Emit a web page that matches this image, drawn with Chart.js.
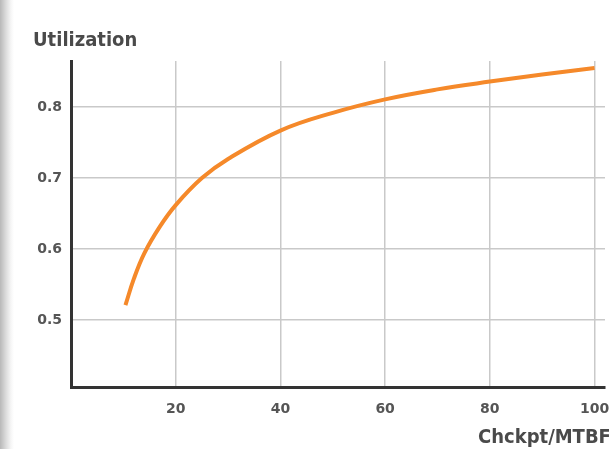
<!DOCTYPE html>
<html>
<head>
<meta charset="utf-8">
<script src="https://cdn.jsdelivr.net/npm/chart.js@4.4.0/dist/chart.umd.min.js"></script>
<style>
  html, body { margin: 0; padding: 0; }
  body {
    width: 609px; height: 449px; overflow: hidden; position: relative;
    background: linear-gradient(to right, #b8b8b8 0px, #dcdcdc 6px, #f6f6f6 11px, #ffffff 14px);
  }
  #wrap { position: absolute; left: 0; top: 0; width: 609px; height: 449px; }
  .lbl {
    position: absolute; font-family: "DejaVu Sans Condensed", "DejaVu Sans", sans-serif;
    font-weight: bold; color: #4a4a4a; font-size: 20px; white-space: nowrap; line-height: 1;
  }
</style>
</head>
<body>
<div id="wrap"><canvas id="myChart" width="609" height="449"></canvas></div>
<div class="lbl" style="left:33px; top:29px;">Utilization</div>
<div class="lbl" style="left:478px; top:426px;">Chckpt/MTBF</div>
<script>
// values
const ratio = [10.4, 12, 14, 17, 20, 25, 30, 40, 50, 60, 70, 80, 90, 100];
const utilization = [0.521, 0.558, 0.594, 0.632, 0.662, 0.70, 0.727, 0.767, 0.792, 0.811, 0.825, 0.836, 0.846, 0.855];
const xTicks = [20, 40, 60, 80, 100];
const yTicks = [0.5, 0.6, 0.7, 0.8];

const points = ratio.map((x, i) => ({ x: x, y: utilization[i] }));

const ctx = document.getElementById('myChart').getContext('2d');

const tickFont = { family: '"DejaVu Sans", sans-serif', size: 14, weight: 'bold' };

const myChart = new Chart(ctx, {
    type: 'line',
    data: {
        datasets: [{
            data: points,
            borderColor: '#f5892a',
            borderWidth: 4,
            pointRadius: 0,
            fill: false,
            tension: 0.4
        }]
    },
    options: {
        responsive: false,
        animation: false,
        layout: { padding: { left: 0, top: 61, right: 4, bottom: 31.5 } },
        plugins: { legend: { display: false }, tooltip: { enabled: false } },
        scales: {
            x: {
                type: 'linear',
                min: 0,
                max: 102,
                afterBuildTicks: (s) => { s.ticks = xTicks.map(v => ({ value: v })); },
                afterFit: (s) => { s.height = 30; s.paddingLeft = 0; s.paddingRight = 0; },
                grid: { color: '#c9c9c9', lineWidth: 1.5, drawTicks: false },
                border: { display: true, color: '#333', width: 3 },
                ticks: { padding: 13, color: '#555', font: tickFont }
            },
            y: {
                min: 0.405,
                max: 0.865,
                afterBuildTicks: (s) => { s.ticks = yTicks.map(v => ({ value: v })); },
                afterFit: (s) => { s.width = 71; s.paddingTop = 0; s.paddingBottom = 0; },
                grid: { color: '#c9c9c9', lineWidth: 1.5, drawTicks: false },
                border: { display: true, color: '#333', width: 3 },
                ticks: {
                    padding: 9,
                    color: '#555',
                    callback: (v) => v.toFixed(1),
                    font: tickFont
                }
            }
        }
    }
});
</script>
</body>
</html>
